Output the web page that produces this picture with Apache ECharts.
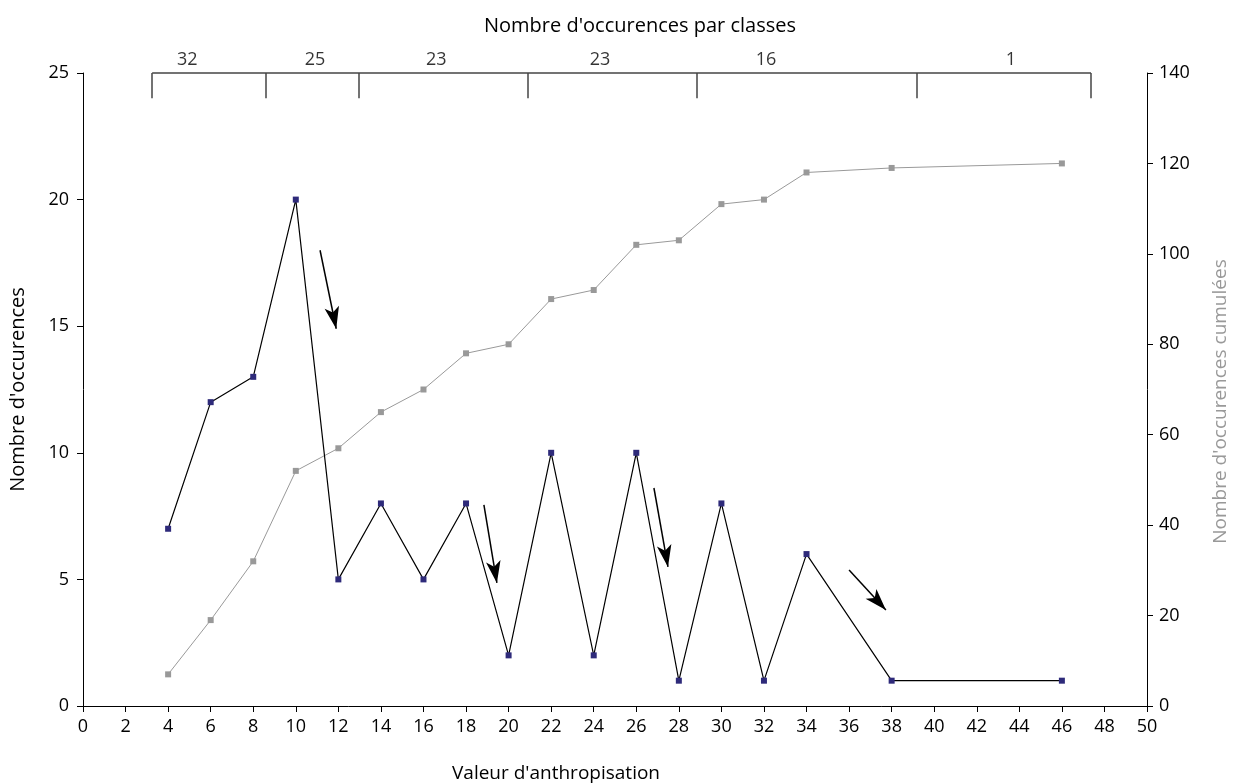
<!DOCTYPE html>
<html>
<head>
<meta charset="utf-8">
<script src="https://cdn.jsdelivr.net/npm/echarts@6/dist/echarts.min.js"></script>
<style>
  html, body { margin: 0; padding: 0; background: #fff; }
  #chart { width: 1234px; height: 784px; }
</style>
</head>
<body>
<div id="chart"></div>
<script>
// valeurs d'anthropisation
var xValues = [4, 6, 8, 10, 12, 14, 16, 18, 20, 22, 24, 26, 28, 30, 32, 34, 38, 46];
var occurences = [7, 12, 13, 20, 5, 8, 5, 8, 2, 10, 2, 10, 1, 8, 1, 6, 1, 1];
var cumulees = [7, 19, 32, 52, 57, 65, 70, 78, 80, 90, 92, 102, 103, 111, 112, 118, 119, 120];

// classes (accolade du haut)
var classBounds = [3.25, 8.6, 12.97, 20.9, 28.85, 39.2, 47.37];
var classLabels = ["32", "25", "23", "23", "16", "1"];
var classLabelX = [4.9, 10.9, 16.6, 24.3, 32.1, 43.6];

// fleches [debut, fin]
var arrows = [
  [[11.14, 18.0], [11.9, 14.9]],
  [[18.84, 7.94], [19.45, 4.86]],
  [[26.83, 8.61], [27.49, 5.49]],
  [[36.0, 5.37], [37.73, 3.79]]
];

var font = "'Open Sans', sans-serif";
var myChart = echarts.init(document.getElementById("chart"));

var bracketLines = [];
bracketLines.push([{ coord: [classBounds[0], 25] }, { coord: [classBounds[classBounds.length - 1], 25] }]);
classBounds.forEach(function (b) {
  bracketLines.push([{ coord: [b, 25] }, { coord: [b, 24] }]);
});

var arrowLines = arrows.map(function (a) {
  return [{ coord: a[0] }, { coord: a[1] }];
});

var options = {
  animation: false,
  title: {
    text: "Nombre d'occurences par classes",
    left: 635,
    textAlign: 'center',
    top: 11,
    textStyle: { fontFamily: font, fontSize: 20, fontWeight: 'normal', color: '#000' }
  },
  grid: { left: 83, right: 87, top: 73, bottom: 78, outerBoundsMode: 'none' },
  xAxis: {
    type: 'value',
    min: 0, max: 50, interval: 2,
    name: "Valeur d'anthropisation",
    nameLocation: 'middle',
    nameGap: 58,
    nameTextStyle: { fontFamily: font, fontSize: 19, color: '#000', padding: [0, 118, 0, 0] },
    axisLine: { lineStyle: { color: '#000' } },
    axisTick: { length: 6, lineStyle: { color: '#000' } },
    axisLabel: { fontFamily: font, fontSize: 18, color: '#000', margin: 12 },
    splitLine: { show: false }
  },
  yAxis: [
    {
      type: 'value',
      min: 0, max: 25, interval: 5,
      name: "Nombre d'occurences",
      nameLocation: 'middle',
      nameGap: 55,
      nameTextStyle: { fontFamily: font, fontSize: 20, color: '#000' },
      axisLine: { show: true, lineStyle: { color: '#000' } },
      axisTick: { show: true, length: 6, lineStyle: { color: '#000' } },
      axisLabel: { fontFamily: font, fontSize: 18, color: '#000', margin: 14 },
      splitLine: { show: false }
    },
    {
      type: 'value',
      min: 0, max: 140, interval: 20,
      position: 'right',
      name: "Nombre d'occurences cumulées",
      nameLocation: 'middle',
      nameGap: 64,
      nameRotate: 90,
      nameTextStyle: { fontFamily: font, fontSize: 19, color: '#999', padding: [0, 24, 0, 0] },
      axisLine: { show: true, lineStyle: { color: '#000' } },
      axisTick: { show: true, length: 6, lineStyle: { color: '#000' } },
      axisLabel: { fontFamily: font, fontSize: 18, color: '#000', margin: 12 },
      splitLine: { show: false }
    }
  ],
  series: [
    {
      name: 'cumulees',
      type: 'line',
      yAxisIndex: 1,
      data: xValues.map(function (x, i) { return [x, cumulees[i]]; }),
      symbol: 'rect',
      symbolSize: 6,
      itemStyle: { color: '#999' },
      lineStyle: { color: '#999', width: 1 }
    },
    {
      name: 'occurences',
      type: 'line',
      yAxisIndex: 0,
      data: xValues.map(function (x, i) { return [x, occurences[i]]; }),
      symbol: 'rect',
      symbolSize: 6,
      itemStyle: { color: '#2e2a7a' },
      lineStyle: { color: '#000', width: 1.2 },
      markLine: {
        silent: true,
        symbol: ['none', 'arrow'],
        symbolSize: [11, 22],
        label: { show: false },
        lineStyle: { color: '#000', width: 1.5, type: 'solid' },
        data: arrowLines
      }
    },
    {
      name: 'classes',
      type: 'scatter',
      yAxisIndex: 0,
      clip: false,
      symbolSize: 0,
      data: classLabelX.map(function (x, i) { return { value: [x, 25], name: classLabels[i] }; }),
      label: {
        show: true,
        position: 'top',
        distance: 4,
        formatter: '{b}',
        fontFamily: font,
        fontSize: 18,
        color: '#000'
      },
      markLine: {
        silent: true,
        symbol: ['none', 'none'],
        label: { show: false },
        lineStyle: { color: '#444', width: 1.5, type: 'solid' },
        data: bracketLines
      }
    }
  ]
};
myChart.setOption(options);
</script>
</body>
</html>
